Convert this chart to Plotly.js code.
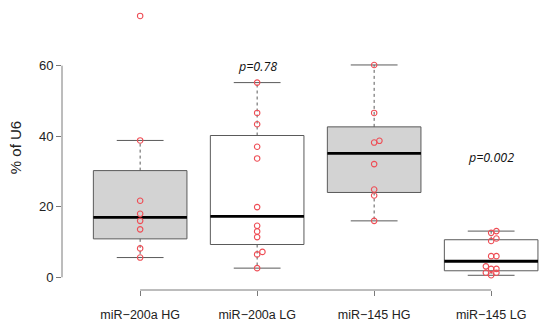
<!DOCTYPE html>
<html>
<head>
<meta charset="utf-8">
<script src="https://cdn.plot.ly/plotly-3.0.1.min.js"></script>
<style>html,body{margin:0;padding:0;background:#fff;}#chart{width:550px;height:329px;}</style>
</head>
<body>
<div id="chart"></div>
<script>
// ---- data ----
const categories = ['miR\u2212200a HG', 'miR\u2212200a LG', 'miR\u2212145 HG', 'miR\u2212145 LG'];
const mir200aHG = [74.1, 38.8, 21.7, 18.0, 16.0, 13.6, 8.2, 5.6];
const mir200aLG = [55.2, 46.6, 43.4, 37.0, 33.7, 19.9, 14.6, 13.0, 11.4, 7.2, 6.5, 2.6];
const mir145HG  = [60.2, 46.6, 38.7, 38.2, 32.1, 24.9, 23.2, 16.0];
const mir145LG  = [13.1, 12.6, 11.0, 10.3, 6.0, 6.0, 3.1, 2.4, 2.4, 1.3, 1.3, 0.57];
const groups = [mir200aHG, mir200aLG, mir145HG, mir145LG];
const yTicks = [0, 20, 40, 60];
const pLabels = ['p=0.78', 'p=0.002'];
const pGroups = [1, 3];
const pY = [59.9, 34.1];

// ---- styles ----
const fills = ['#d3d3d3', '#ffffff', '#d3d3d3', '#ffffff'];
const boxLine = '#5a5a5a';
const axisCol = '#7a7a7a';
const ptCol = '#ee4d55';
const boxW = 0.8, stapleW = 0.4;

function fivenum(v) {
  const x = [...v].sort((a, b) => a - b);
  const n = x.length;
  const n4 = Math.floor((n + 3) / 2) / 2;
  const d = [1, n4, (n + 1) / 2, n + 1 - n4, n];
  return d.map(di => 0.5 * (x[Math.floor(di) - 1] + x[Math.ceil(di) - 1]));
}

const traces = [];
const wx = [], wy = [], sx = [], sy = [], mx = [], my = [];
const px = [], py = [];
groups.forEach((g, i) => {
  const f = fivenum(g);
  const q1 = f[1], med = f[2], q3 = f[3];
  const iqr = q3 - q1;
  const lw = Math.min(...g.filter(v => v >= q1 - 1.5 * iqr));
  const uw = Math.max(...g.filter(v => v <= q3 + 1.5 * iqr));
  traces.push({
    type: 'box', x: [i], q1: [q1], median: [med], q3: [q3],
    lowerfence: [q1], upperfence: [q3], width: boxW, whiskerwidth: 0,
    boxpoints: false, fillcolor: fills[i], line: {color: boxLine, width: 1},
    hoverinfo: 'skip', showlegend: false
  });
  wx.push(i, i, null, i, i, null); wy.push(q3, uw, null, q1, lw, null);
  sx.push(i - stapleW / 2, i + stapleW / 2, null, i - stapleW / 2, i + stapleW / 2, null);
  sy.push(uw, uw, null, lw, lw, null);
  mx.push(i - boxW / 2, i + boxW / 2, null); my.push(med, med, null);
  // simple stacking of near-equal values (like stripchart "stack")
  const sorted = [...g].sort((a, b) => a - b);
  const offs = [0, 1, -1, 2, -2];
  let k = 0;
  sorted.forEach((v, j) => {
    if (j > 0 && Math.abs(v - sorted[j - 1]) < 0.8) k++; else k = 0;
    px.push(i + offs[k % offs.length] * 0.045); py.push(v);
  });
});

traces.push({type: 'scatter', mode: 'lines', x: wx, y: wy, line: {color: boxLine, width: 1, dash: '3px,3px'}, hoverinfo: 'skip', showlegend: false});
traces.push({type: 'scatter', mode: 'lines', x: sx, y: sy, line: {color: boxLine, width: 1}, hoverinfo: 'skip', showlegend: false});
traces.push({type: 'scatter', mode: 'lines', x: mx, y: my, line: {color: '#000000', width: 2.8}, hoverinfo: 'skip', showlegend: false});
traces.push({type: 'scatter', mode: 'markers', x: px, y: py, cliponaxis: false,
  marker: {symbol: 'circle-open', size: 5.5, color: ptCol, line: {width: 1.1, color: ptCol}},
  hoverinfo: 'skip', showlegend: false});

const layout = {
  width: 550, height: 329,
  margin: {l: 62, r: 0, t: 5, b: 39},
  paper_bgcolor: '#ffffff', plot_bgcolor: '#ffffff',
  font: {family: '"Liberation Sans", Arial, sans-serif', color: '#222222', size: 13},
  xaxis: {
    type: 'linear', range: [-0.668, 3.503], showgrid: false, zeroline: false, showline: false,
    tickmode: 'array', tickvals: categories.map((c, i) => i), ticktext: categories,
    ticks: 'outside', ticklen: 5, tickwidth: 1, tickcolor: axisCol,
    ticklabelstandoff: 8, tickfont: {size: 12.5, color: '#222222'}
  },
  yaxis: {
    range: [-3.6, 77.2], showgrid: false, zeroline: false, showline: false,
    tickmode: 'array', tickvals: yTicks, ticks: 'outside', ticklen: 5, tickwidth: 1, tickcolor: axisCol,
    tickfont: {size: 13, color: '#222222'},
    title: {text: '% of U6', font: {size: 15, color: '#222222'}, standoff: 13}
  },
  shapes: [
    {type: 'line', xref: 'x', yref: 'paper', x0: 0, x1: categories.length - 1, y0: 0, y1: 0, line: {color: axisCol, width: 1}},
    {type: 'line', xref: 'paper', yref: 'y', x0: 0, x1: 0, y0: Math.min(...yTicks), y1: Math.max(...yTicks), line: {color: axisCol, width: 1}}
  ],
  annotations: pLabels.map((t, j) => ({
    text: '<i>' + t + '</i>', x: pGroups[j], y: pY[j], xref: 'x', yref: 'y', showarrow: false,
    font: {family: '"Open Sans", sans-serif', size: 12.5, color: '#111111'}
  }))
};

Plotly.newPlot('chart', traces, layout, {staticPlot: true, displayModeBar: false});
</script>
</body>
</html>
